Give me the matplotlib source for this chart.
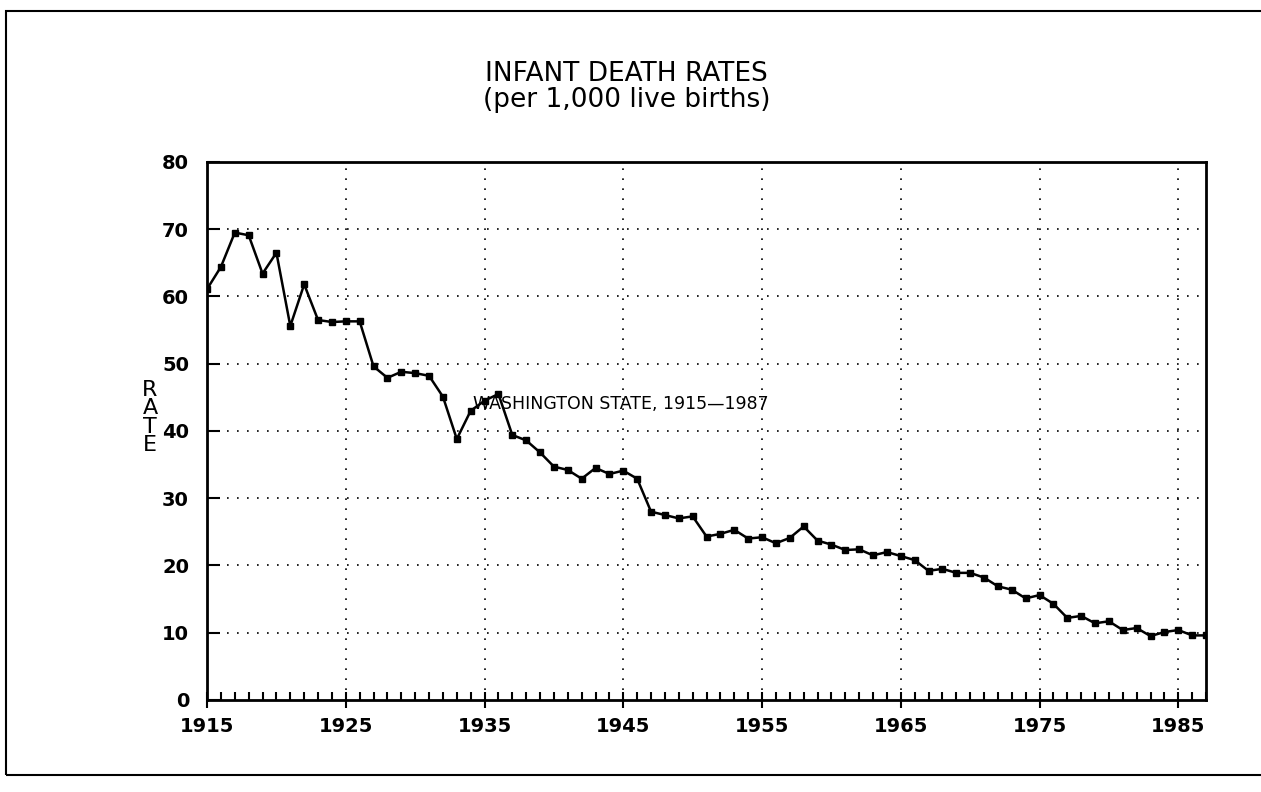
import matplotlib
matplotlib.use("Agg")
import matplotlib.pyplot as plt
from matplotlib.ticker import MultipleLocator, FixedLocator
from matplotlib.patches import Rectangle

# infant death rates per 1,000 live births, Washington State
years = list(range(1915, 1988))
rates = [
    61.1, 64.4, 69.5, 69.1, 63.4, 66.5, 55.6, 61.8, 56.5, 56.2,
    56.3, 56.3, 49.6, 47.9, 48.8, 48.6, 48.2, 45.1, 38.8, 43.0,
    44.5, 45.5, 39.4, 38.6, 36.8, 34.7, 34.2, 32.9, 34.5, 33.6,
    34.1, 32.9, 28.0, 27.5, 27.0, 27.3, 24.3, 24.7, 25.3, 24.0,
    24.2, 23.3, 24.1, 25.8, 23.7, 23.1, 22.3, 22.4, 21.5, 22.0,
    21.4, 20.8, 19.2, 19.5, 18.9, 18.9, 18.2, 16.9, 16.4, 15.1,
    15.6, 14.3, 12.2, 12.5, 11.4, 11.7, 10.4, 10.7, 9.5, 10.1,
    10.4, 9.6, 9.6,
]
x_ticks = [1915, 1925, 1935, 1945, 1955, 1965, 1975, 1985]
y_ticks = [0, 10, 20, 30, 40, 50, 60, 70, 80]

fig = plt.figure(figsize=(12.61, 7.92), dpi=100)
ax = fig.add_axes([0.1642, 0.1162, 0.7922, 0.6793])

ax.plot(years, rates, color="black", lw=1.8, marker="s", ms=5)

ax.set_xlim(1915, 1987)
ax.set_ylim(0, 80)
ax.xaxis.set_major_locator(FixedLocator(x_ticks))
ax.xaxis.set_minor_locator(MultipleLocator(1))
ax.yaxis.set_major_locator(FixedLocator(y_ticks))

# dotted grid
for yv in y_ticks[1:-1]:
    ax.axhline(yv, color="black", lw=1.2, ls=(0, (1, 5)), zorder=0)
for xv in x_ticks[1:]:
    ax.axvline(xv, color="black", lw=1.2, ls=(0, (1, 5)), zorder=0)

for s in ax.spines.values():
    s.set_linewidth(2)

ax.tick_params(axis="x", which="major", direction="inout", length=12, width=1.5,
               labelsize=14, pad=6)
ax.tick_params(axis="x", which="minor", direction="in", length=6, width=1.5)
ax.tick_params(axis="y", which="major", direction="in", length=9, width=1.5,
               labelsize=14, pad=13)
for lbl in ax.get_xticklabels() + ax.get_yticklabels():
    lbl.set_fontweight("bold")

ax.text(1934.2, 44, "WASHINGTON STATE, 1915\u20141987", fontsize=12.5,
        va="center", ha="left")

fig.text(0.497, 0.907, "INFANT DEATH RATES", fontsize=19, ha="center", va="center")
fig.text(0.497, 0.874, "(per 1,000 live births)", fontsize=19, ha="center", va="center")
fig.text(0.119, 0.473, "R\nA\nT\nE", fontsize=16, ha="center", va="center",
         linespacing=0.9)

# scanned page frame
fig.patches.append(Rectangle((6 / 1261, 1 - 775 / 792), 1.0, (775 - 11) / 792,
                             transform=fig.transFigure, fill=False,
                             edgecolor="black", lw=1.5))

fig.savefig("out.png", dpi=100)
